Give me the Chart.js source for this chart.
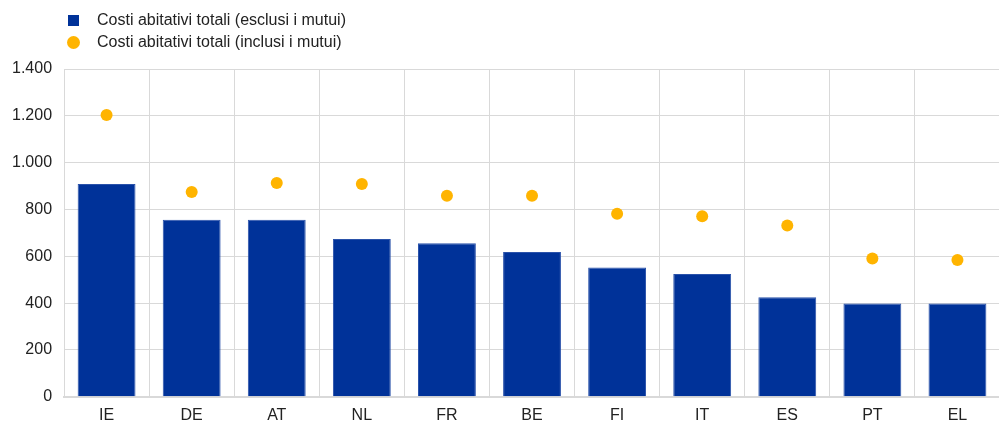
<!DOCTYPE html>
<html>
<head>
<meta charset="utf-8">
<script src="https://cdn.jsdelivr.net/npm/chart.js@4"></script>
<style>
  body { margin: 0; background: #fff; overflow: hidden; }
  #wrap { position: relative; width: 999px; height: 421px; overflow: hidden; }
  #legend { position: absolute; left: 68px; top: 9px; font: 16px "Liberation Sans", Arial, sans-serif; color: #222; }
  .item { height: 22px; line-height: 22px; display: flex; align-items: center; }
  .mark { width: 11px; height: 11px; margin-right: 18px; }
</style>
</head>
<body>
<div id="wrap">
  <div id="legend"></div>
  <canvas id="houseChart" width="1006" height="434"></canvas>
</div>
<script>
// countries
let labels = ['IE', 'DE', 'AT', 'NL', 'FR', 'BE', 'FI', 'IT', 'ES', 'PT', 'EL'];
// total housing costs, excluding mortgages
let exclMortgage = [909, 756, 756, 674, 656, 618, 552, 524, 425, 398, 398];
// total housing costs, including mortgages
let inclMortgage = [1204, 875, 913, 909, 859, 859, 782, 771, 732, 591, 584];
let yTicks = [0, 200, 400, 600, 800, 1000, 1200, 1400];

let seriesNames = ['Costi abitativi totali (esclusi i mutui)', 'Costi abitativi totali (inclusi i mutui)'];
let blue = '#003299';
let yellow = '#ffb400';

// legend stacked on two lines, like the original
let legend = document.getElementById('legend');
seriesNames.forEach(function (name, i) {
    let row = document.createElement('div');
    row.className = 'item';
    let mark = document.createElement('span');
    mark.className = 'mark';
    mark.style.background = i === 0 ? blue : yellow;
    if (i === 1) {
        mark.style.borderRadius = '50%';
        mark.style.width = '13px';
        mark.style.height = '13px';
        mark.style.marginLeft = '-1px';
        mark.style.marginRight = '17px';
    }
    row.appendChild(mark);
    row.appendChild(document.createTextNode(name));
    legend.appendChild(row);
});

Chart.defaults.font.family = '"Liberation Sans", Arial, sans-serif';
Chart.defaults.font.size = 16;
Chart.defaults.color = '#333';

let ctx = document.getElementById('houseChart').getContext('2d');

let houseChart = new Chart(ctx, {
    data: {
        labels: labels,
        datasets: [{
            type: 'bar',
            label: seriesNames[0],
            data: exclMortgage,
            backgroundColor: blue,
            borderColor: '#2a52aa',
            borderWidth: 1,
            categoryPercentage: 1,
            barPercentage: 0.68,
            order: 2
        }, {
            type: 'line',
            label: seriesNames[1],
            data: inclMortgage,
            showLine: false,
            pointRadius: 6,
            pointHoverRadius: 6,
            pointBackgroundColor: yellow,
            pointBorderWidth: 0,
            order: 1
        }]
    },
    options: {
        responsive: false,
        animation: false,
        layout: {
            padding: { top: 69, right: 0, left: 0, bottom: 0 }
        },
        plugins: {
            legend: { display: false },
            tooltip: { enabled: false }
        },
        scales: {
            x: {
                offset: true,
                grid: { color: '#d9d9d9', lineWidth: 1, offset: true, drawTicks: false },
                border: { color: '#d9d9d9', width: 2 },
                ticks: { padding: 9, color: '#222' }
            },
            y: {
                min: 0,
                max: 1400,
                afterBuildTicks: function (axis) {
                    axis.ticks = yTicks.map(function (v) { return { value: v }; });
                },
                grid: { color: '#d9d9d9', lineWidth: 1, drawTicks: false },
                border: { display: false },
                ticks: {
                    padding: 12,
                    color: '#222',
                    callback: function (v) {
                        return String(v).replace(/\B(?=(\d{3})+(?!\d))/g, '.');
                    }
                }
            }
        }
    }
});
</script>
</body>
</html>
